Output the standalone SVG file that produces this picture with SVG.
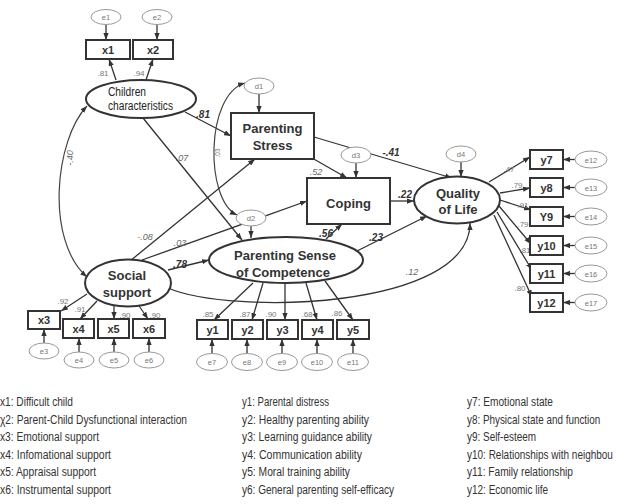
<svg xmlns="http://www.w3.org/2000/svg" width="619" height="504" viewBox="0 0 619 504">
<style>
text{font-family:"Liberation Sans",Arial,sans-serif}
.box{fill:#fff;stroke:#333;stroke-width:2}
.lat{fill:#fff;stroke:#333;stroke-width:2}
.err{fill:#fff;stroke:#999;stroke-width:1}
.et{font-size:7.5px;fill:#777;text-anchor:middle}
.bt{font-size:11px;font-weight:bold;fill:#333;text-anchor:middle}
.lt{font-size:13px;font-weight:bold;fill:#333;text-anchor:middle}
.ln{stroke:#333;stroke-width:1.3;fill:none;marker-end:url(#ah)}
.bi{stroke:#444;stroke-width:1.2;fill:none;marker-end:url(#ah);marker-start:url(#ah)}
.sn{font-size:8px;fill:#777;text-anchor:middle}
.pn{font-size:9px;fill:#666;text-anchor:middle;font-style:italic}
.bn{font-size:10px;fill:#333;text-anchor:middle;font-weight:bold;font-style:italic}
.lg{font-size:12.5px;fill:#333}
</style>
<defs>
<marker id="ah" viewBox="0 0 8 6" refX="8" refY="3" markerWidth="7" markerHeight="5.5" markerUnits="userSpaceOnUse" orient="auto-start-reverse"><path d="M0,0L8,3L0,6z" fill="#333"/></marker>
</defs>
<rect width="619" height="504" fill="#fff"/>
<g id="connectors">
<line class="ln" x1="106" y1="25" x2="106" y2="40"/>
<line class="ln" x1="157" y1="25" x2="157" y2="40"/>
<line class="ln" x1="116" y1="80" x2="109" y2="59"/>
<line class="ln" x1="146" y1="80" x2="153" y2="59"/>
<line class="ln" x1="185" y1="112" x2="231" y2="136"/>
<line class="ln" x1="143" y1="118" x2="242" y2="240"/>
<path class="bi" d="M87,277C45,240 55,140 87,106"/>
<line class="ln" x1="259" y1="94" x2="259" y2="113"/>
<path class="bi" d="M245,83C205,95 205,200 237,215"/>
<line class="ln" x1="130" y1="261" x2="255" y2="159"/>
<line class="ln" x1="142" y1="260" x2="307" y2="201"/>
<line class="ln" x1="168" y1="270" x2="209" y2="260"/>
<path class="ln" d="M168,288C230,315 470,310 470,223"/>
<line class="ln" x1="251" y1="226" x2="251" y2="238"/>
<line class="ln" x1="312" y1="158" x2="347" y2="178"/>
<line class="ln" x1="356" y1="163" x2="356" y2="178"/>
<line class="ln" x1="314" y1="137" x2="452" y2="178"/>
<line class="ln" x1="390" y1="201" x2="414" y2="201"/>
<line class="ln" x1="326" y1="239" x2="342" y2="224"/>
<line class="ln" x1="357" y1="251" x2="427" y2="216"/>
<line class="ln" x1="461" y1="162" x2="461" y2="177"/>
<line class="ln" x1="489" y1="182" x2="530" y2="157"/>
<line class="ln" x1="500" y1="193" x2="530" y2="188"/>
<line class="ln" x1="500" y1="200" x2="531" y2="210"/>
<line class="ln" x1="499" y1="206" x2="531" y2="244"/>
<line class="ln" x1="497" y1="212" x2="532" y2="270"/>
<line class="ln" x1="494" y1="215" x2="532" y2="297"/>
<line class="ln" x1="575" y1="159.5" x2="563" y2="159.5"/>
<line class="ln" x1="575" y1="187.5" x2="563" y2="187.5"/>
<line class="ln" x1="575" y1="216.5" x2="563" y2="216.5"/>
<line class="ln" x1="575" y1="245.5" x2="563" y2="245.5"/>
<line class="ln" x1="575" y1="273.5" x2="563" y2="273.5"/>
<line class="ln" x1="575" y1="302.5" x2="563" y2="302.5"/>
<line class="ln" x1="87" y1="294" x2="61" y2="311"/>
<line class="ln" x1="97" y1="301" x2="80" y2="319"/>
<line class="ln" x1="114" y1="306" x2="114" y2="319"/>
<line class="ln" x1="137" y1="303" x2="148" y2="319"/>
<line class="ln" x1="44" y1="343" x2="44" y2="329"/>
<line class="ln" x1="79" y1="352" x2="79" y2="338"/>
<line class="ln" x1="114" y1="352" x2="114" y2="338"/>
<line class="ln" x1="149" y1="352" x2="149" y2="338"/>
<line class="ln" x1="253" y1="283" x2="214" y2="320"/>
<line class="ln" x1="263" y1="283" x2="252" y2="320"/>
<line class="ln" x1="285" y1="283" x2="285" y2="320"/>
<line class="ln" x1="306" y1="283" x2="317" y2="320"/>
<line class="ln" x1="325" y1="281" x2="353" y2="320"/>
<line class="ln" x1="212" y1="354" x2="212" y2="339"/>
<line class="ln" x1="247" y1="354" x2="247" y2="339"/>
<line class="ln" x1="282" y1="354" x2="282" y2="339"/>
<line class="ln" x1="317" y1="354" x2="317" y2="339"/>
<line class="ln" x1="353" y1="354" x2="353" y2="339"/>
</g>
<g id="coef">
<text class="sn" x="103" y="76">.81</text>
<text class="sn" x="139" y="76">.94</text>
<text class="bn" x="203" y="118">.81</text>
<text class="pn" x="182" y="161">.07</text>
<text class="pn" transform="translate(73,158) rotate(-90)">-.40</text>
<text class="sn" style="font-size:6.5px" transform="translate(220,153) rotate(-90)">.03</text>
<text class="pn" x="145" y="240">-.08</text>
<text class="pn" x="180" y="246">.03</text>
<text class="bn" x="180" y="268">.78</text>
<text class="pn" x="316" y="175">.52</text>
<text class="bn" x="391" y="156">-.41</text>
<text class="bn" x="405" y="198">.22</text>
<text class="bn" x="326" y="237">.56</text>
<text class="bn" x="376" y="241">.23</text>
<text class="pn" x="412" y="275">.12</text>
<text class="sn" x="509" y="172">.47</text>
<text class="sn" x="517" y="188">.79</text>
<text class="sn" x="523" y="208">.91</text>
<text class="sn" x="523" y="227">.79</text>
<text class="sn" x="525" y="253">.81</text>
<text class="sn" x="520" y="291">.80</text>
<text class="sn" x="63" y="304">.92</text>
<text class="sn" x="80" y="312">.91</text>
<text class="sn" x="125" y="318">.90</text>
<text class="sn" x="155" y="318">.90</text>
<text class="sn" x="208" y="317">.85</text>
<text class="sn" x="245" y="317">.87</text>
<text class="sn" x="271" y="317">.90</text>
<text class="sn" x="307" y="317">.68</text>
<text class="sn" x="337" y="316">.86</text>
</g>
<g id="e1"><ellipse class="err" cx="106" cy="17" rx="15" ry="7.5"/><text class="et" x="106" y="20">e1</text></g>
<g id="e2"><ellipse class="err" cx="157" cy="17" rx="15" ry="7.5"/><text class="et" x="157" y="20">e2</text></g>
<g id="x1"><rect class="box" x="86" y="40" width="44" height="19"/><text class="bt" x="108" y="53.5">x1</text></g>
<g id="x2"><rect class="box" x="133" y="40" width="40" height="19"/><text class="bt" x="153" y="53.5">x2</text></g>
<g id="children"><ellipse class="lat" cx="141" cy="99" rx="55" ry="19"/><text x="108" y="96" style="font-size:12px;fill:#222" textLength="38" lengthAdjust="spacingAndGlyphs">Children</text><text x="108" y="110" style="font-size:12px;fill:#222" textLength="65" lengthAdjust="spacingAndGlyphs">characteristics</text></g>
<g id="d1"><ellipse class="err" cx="259" cy="86" rx="15" ry="8"/><text class="et" x="259" y="89">d1</text></g>
<g id="stress"><rect class="box" x="231" y="113" width="83" height="46"/><text class="lt" x="272.5" y="132.5">Parenting</text><text class="lt" x="272.5" y="150">Stress</text></g>
<g id="d3"><ellipse class="err" cx="356" cy="155" rx="15" ry="8"/><text class="et" x="356" y="158">d3</text></g>
<g id="coping"><rect class="box" x="307" y="178" width="83" height="46"/><text class="lt" x="348.5" y="207.5">Coping</text></g>
<g id="d2"><ellipse class="err" cx="251" cy="218" rx="15" ry="8"/><text class="et" x="251" y="221">d2</text></g>
<g id="d4"><ellipse class="err" cx="461" cy="154" rx="15" ry="8"/><text class="et" x="461" y="157">d4</text></g>
<g id="qol"><ellipse class="lat" cx="457" cy="200" rx="43" ry="23.5"/><text class="lt" x="458" y="197.5">Quality</text><text class="lt" x="458" y="213.5">of Life</text></g>
<g id="psc"><ellipse class="lat" cx="286" cy="260" rx="77" ry="23"/><text class="lt" x="285" y="259.5">Parenting Sense</text><text class="lt" x="283" y="276.5">of Competence</text></g>
<g id="social"><ellipse class="lat" cx="128" cy="283" rx="43" ry="23.5"/><text class="lt" x="127" y="279.5">Social</text><text class="lt" x="127" y="296.5">support</text></g>
<g id="x3"><rect class="box" x="28" y="311" width="32" height="18"/><text class="bt" x="44" y="324">x3</text></g>
<g id="x4"><rect class="box" x="63" y="319" width="31" height="19"/><text class="bt" x="78.5" y="332.5">x4</text></g>
<g id="x5"><rect class="box" x="98" y="319" width="31" height="19"/><text class="bt" x="113.5" y="332.5">x5</text></g>
<g id="x6"><rect class="box" x="133" y="319" width="32" height="19"/><text class="bt" x="149" y="332.5">x6</text></g>
<g id="e3"><ellipse class="err" cx="44" cy="351" rx="15" ry="8"/><text class="et" x="44" y="354">e3</text></g>
<g id="e4"><ellipse class="err" cx="79" cy="360" rx="15" ry="8"/><text class="et" x="79" y="363">e4</text></g>
<g id="e5"><ellipse class="err" cx="114" cy="360" rx="15" ry="8"/><text class="et" x="114" y="363">e5</text></g>
<g id="e6"><ellipse class="err" cx="149" cy="360" rx="15" ry="8"/><text class="et" x="149" y="363">e6</text></g>
<g id="y1"><rect class="box" x="197" y="320" width="31" height="19"/><text class="bt" x="212.5" y="333.5">y1</text></g>
<g id="y2"><rect class="box" x="232" y="320" width="31" height="19"/><text class="bt" x="247.5" y="333.5">y2</text></g>
<g id="y3"><rect class="box" x="267" y="320" width="31" height="19"/><text class="bt" x="282.5" y="333.5">y3</text></g>
<g id="y4"><rect class="box" x="302" y="320" width="31" height="19"/><text class="bt" x="317.5" y="333.5">y4</text></g>
<g id="y5"><rect class="box" x="337" y="320" width="32" height="19"/><text class="bt" x="353" y="333.5">y5</text></g>
<g id="e7"><ellipse class="err" cx="212" cy="362" rx="15.5" ry="8.5"/><text class="et" x="212" y="365">e7</text></g>
<g id="e8"><ellipse class="err" cx="247" cy="362" rx="15.5" ry="8.5"/><text class="et" x="247" y="365">e8</text></g>
<g id="e9"><ellipse class="err" cx="282" cy="362" rx="15.5" ry="8.5"/><text class="et" x="282" y="365">e9</text></g>
<g id="e10"><ellipse class="err" cx="317" cy="362" rx="15.5" ry="8.5"/><text class="et" x="317" y="365">e10</text></g>
<g id="e11"><ellipse class="err" cx="353" cy="362" rx="15.5" ry="8.5"/><text class="et" x="353" y="365">e11</text></g>
<g id="y7"><rect class="box" x="530" y="150" width="33" height="19"/><text class="bt" x="546.5" y="163.5">y7</text></g>
<g id="y8"><rect class="box" x="530" y="178" width="33" height="19"/><text class="bt" x="546.5" y="191.5">y8</text></g>
<g id="y9"><rect class="box" x="530" y="207" width="33" height="19"/><text class="bt" x="546.5" y="220.5">Y9</text></g>
<g id="y10"><rect class="box" x="530" y="236" width="33" height="19"/><text class="bt" x="546.5" y="249.5">y10</text></g>
<g id="y11"><rect class="box" x="530" y="264" width="33" height="19"/><text class="bt" x="546.5" y="277.5">y11</text></g>
<g id="y12"><rect class="box" x="530" y="293" width="33" height="19"/><text class="bt" x="546.5" y="306.5">y12</text></g>
<g id="e12"><ellipse class="err" cx="591" cy="159.5" rx="16" ry="8.5"/><text class="et" x="591" y="162.5">e12</text></g>
<g id="e13"><ellipse class="err" cx="591" cy="187.5" rx="16" ry="8.5"/><text class="et" x="591" y="190.5">e13</text></g>
<g id="e14"><ellipse class="err" cx="591" cy="216.5" rx="16" ry="8.5"/><text class="et" x="591" y="219.5">e14</text></g>
<g id="e15"><ellipse class="err" cx="591" cy="245.5" rx="16" ry="8.5"/><text class="et" x="591" y="248.5">e15</text></g>
<g id="e16"><ellipse class="err" cx="591" cy="273.5" rx="16" ry="8.5"/><text class="et" x="591" y="276.5">e16</text></g>
<g id="e17"><ellipse class="err" cx="591" cy="302.5" rx="16" ry="8.5"/><text class="et" x="591" y="305.5">e17</text></g>
<g id="legend" class="lg">
<text class="lg" x="0" y="406" textLength="73" lengthAdjust="spacingAndGlyphs">x1: Difficult child</text>
<text class="lg" x="0" y="424" textLength="187" lengthAdjust="spacingAndGlyphs">χ2: Parent-Child Dysfunctional interaction</text>
<text class="lg" x="0" y="441" textLength="99" lengthAdjust="spacingAndGlyphs">x3: Emotional support</text>
<text class="lg" x="0" y="459" textLength="111" lengthAdjust="spacingAndGlyphs">x4: Infomational support</text>
<text class="lg" x="0" y="476" textLength="96" lengthAdjust="spacingAndGlyphs">x5: Appraisal support</text>
<text class="lg" x="0" y="494" textLength="111" lengthAdjust="spacingAndGlyphs">x6: Instrumental support</text>
<text class="lg" x="242" y="406" textLength="87" lengthAdjust="spacingAndGlyphs">y1: Parental distress</text>
<text class="lg" x="242" y="424" textLength="127" lengthAdjust="spacingAndGlyphs">y2: Healthy parenting ability</text>
<text class="lg" x="242" y="441" textLength="130" lengthAdjust="spacingAndGlyphs">y3: Learning guidance ability</text>
<text class="lg" x="242" y="459" textLength="120" lengthAdjust="spacingAndGlyphs">y4: Communication ability</text>
<text class="lg" x="242" y="476" textLength="108" lengthAdjust="spacingAndGlyphs">y5: Moral training ability</text>
<text class="lg" x="242" y="494" textLength="152" lengthAdjust="spacingAndGlyphs">y6: General parenting self-efficacy</text>
<text class="lg" x="467" y="406" textLength="86" lengthAdjust="spacingAndGlyphs">y7: Emotional state</text>
<text class="lg" transform="translate(467,424) scale(0.79,1)">y8: Physical state and function</text>
<text class="lg" x="467" y="441" textLength="69" lengthAdjust="spacingAndGlyphs">y9: Self-esteem</text>
<text class="lg" transform="translate(467,459) scale(0.8,1)">y10: Relationships with neighbou</text>
<text class="lg" x="467" y="476" textLength="106" lengthAdjust="spacingAndGlyphs">y11: Family relationship</text>
<text class="lg" x="467" y="494" textLength="81" lengthAdjust="spacingAndGlyphs">y12: Economic life</text>
</g>
</svg>
